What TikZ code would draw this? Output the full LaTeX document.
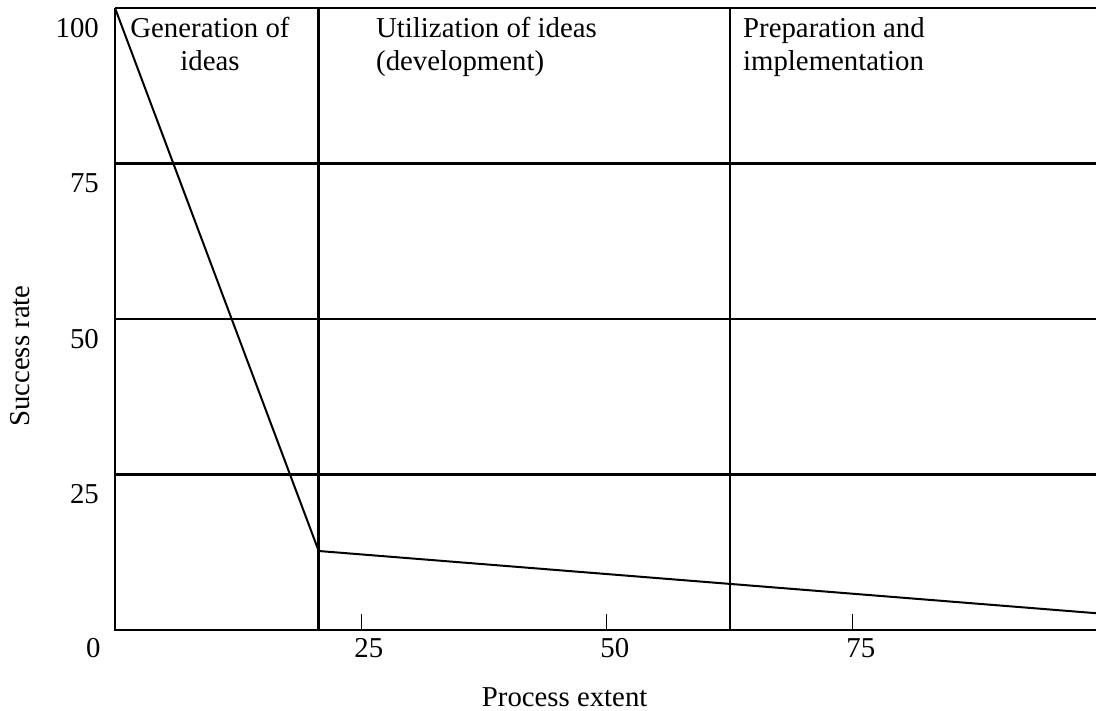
\documentclass[tikz,border=0pt]{standalone}
\usepackage{fontspec}
\setmainfont{Liberation Serif}
\usetikzlibrary{positioning}
\tikzstyle{frame} = [line width=1.2pt]
\tikzstyle{curve} = [line width=1pt, line join=miter]
\tikzstyle{tick} = [line width=0.5pt]
\tikzstyle{lbl} = [inner sep=0pt, font=\fontsize{14.4}{16.5}\selectfont]
\tikzstyle{phase} = [inner sep=0pt, font=\fontsize{14.4}{16.5}\selectfont]

\begin{document}
\begin{tikzpicture}[x=4.92pt, y=3.11pt]
      \useasboundingbox (-11.69,-13.02) rectangle (99.7,101.29);

      % Raster
      \draw[frame] (0,100) -- (0,0) -- (99.7,0);
      \foreach \y in {25,50,75,100}
        \draw[frame] (0,\y) -- (99.7,\y);
      \draw[frame] (20.7,0) -- (20.7,100);
      \draw[frame] (62.5,0) -- (62.5,100);
      \foreach \x in {25,50,75}
        \draw[tick] (\x,0) -- (\x,2.6);

      % Achsenbeschriftung
      \node[lbl] (x0) at (-2.2,-2.9) {0};
      \foreach \x in {25,50,75}
        \node[lbl] (x\x) at (\x+0.8,-2.9) {\x};
      \foreach \y in {25,50,75,100}
        \node[lbl, anchor=east] (y\y) at (-1.6,\y-3.2) {\y};
      \node[lbl] (xlabel) at (45.7,-10.8) {Process extent};
      \node[lbl, rotate=90] (ylabel) at (-9.65,44.05) {Success rate};

      % Phasen
      \node[phase, anchor=north, align=center] (gen) at (9.65,98.6) {Generation of\\ideas};
      \node[phase, anchor=north west, align=left] (util) at (26.5,98.6) {Utilization of ideas\\(development)};
      \node[phase, anchor=north west, align=left] (prep) at (63.8,98.6) {Preparation and\\implementation};

      % Verlauf
      \coordinate (start) at (0,100);
      \coordinate (kink) at (20.7,12.7);
      \coordinate (finish) at (99.7,2.7);
      \draw[curve] (start) -- (kink) -- (finish);
\end{tikzpicture}
\end{document}
